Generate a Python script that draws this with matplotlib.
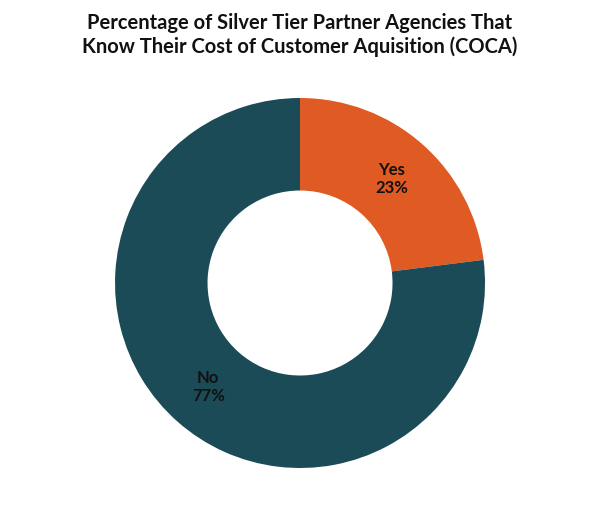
import matplotlib.pyplot as plt
import numpy as np

labels = ['Yes', 'No']
values = [23, 77]
colors = ['#E05A24', '#1C4B58']
title = 'Percentage of Silver Tier Partner Agencies That\nKnow Their Cost of Customer Aquisition (COCA)'

plt.rcParams['font.family'] = ['Lato', 'DejaVu Sans']

fig = plt.figure(figsize=(6, 5.07), dpi=100)
ax = fig.add_axes([0.1917, 0.0769, 0.6167, 0.7298])

wedges, texts = ax.pie(values, colors=colors, startangle=90, counterclock=False,
                       radius=1, wedgeprops=dict(width=0.5, edgecolor='none'))

# labels inside the ring
for w, lab, v in zip(wedges, labels, values):
    ang = np.deg2rad((w.theta1 + w.theta2) / 2)
    x, y = 0.75 * np.cos(ang), 0.75 * np.sin(ang)
    ax.text(x, y, f'{lab}\n{v}%', ha='center', va='center', fontsize=12,
            fontweight='bold', color='#111111', linespacing=1.2)

ax.set_xlim(-1, 1)
ax.set_ylim(-1, 1)
ax.set_aspect('equal')
ax.axis('off')

fig.text(0.5, 0.931, title, ha='center', va='center', fontsize=14.5,
         fontweight='bold', color='#111111', linespacing=1.2)

fig.savefig('out.png', dpi=100)
